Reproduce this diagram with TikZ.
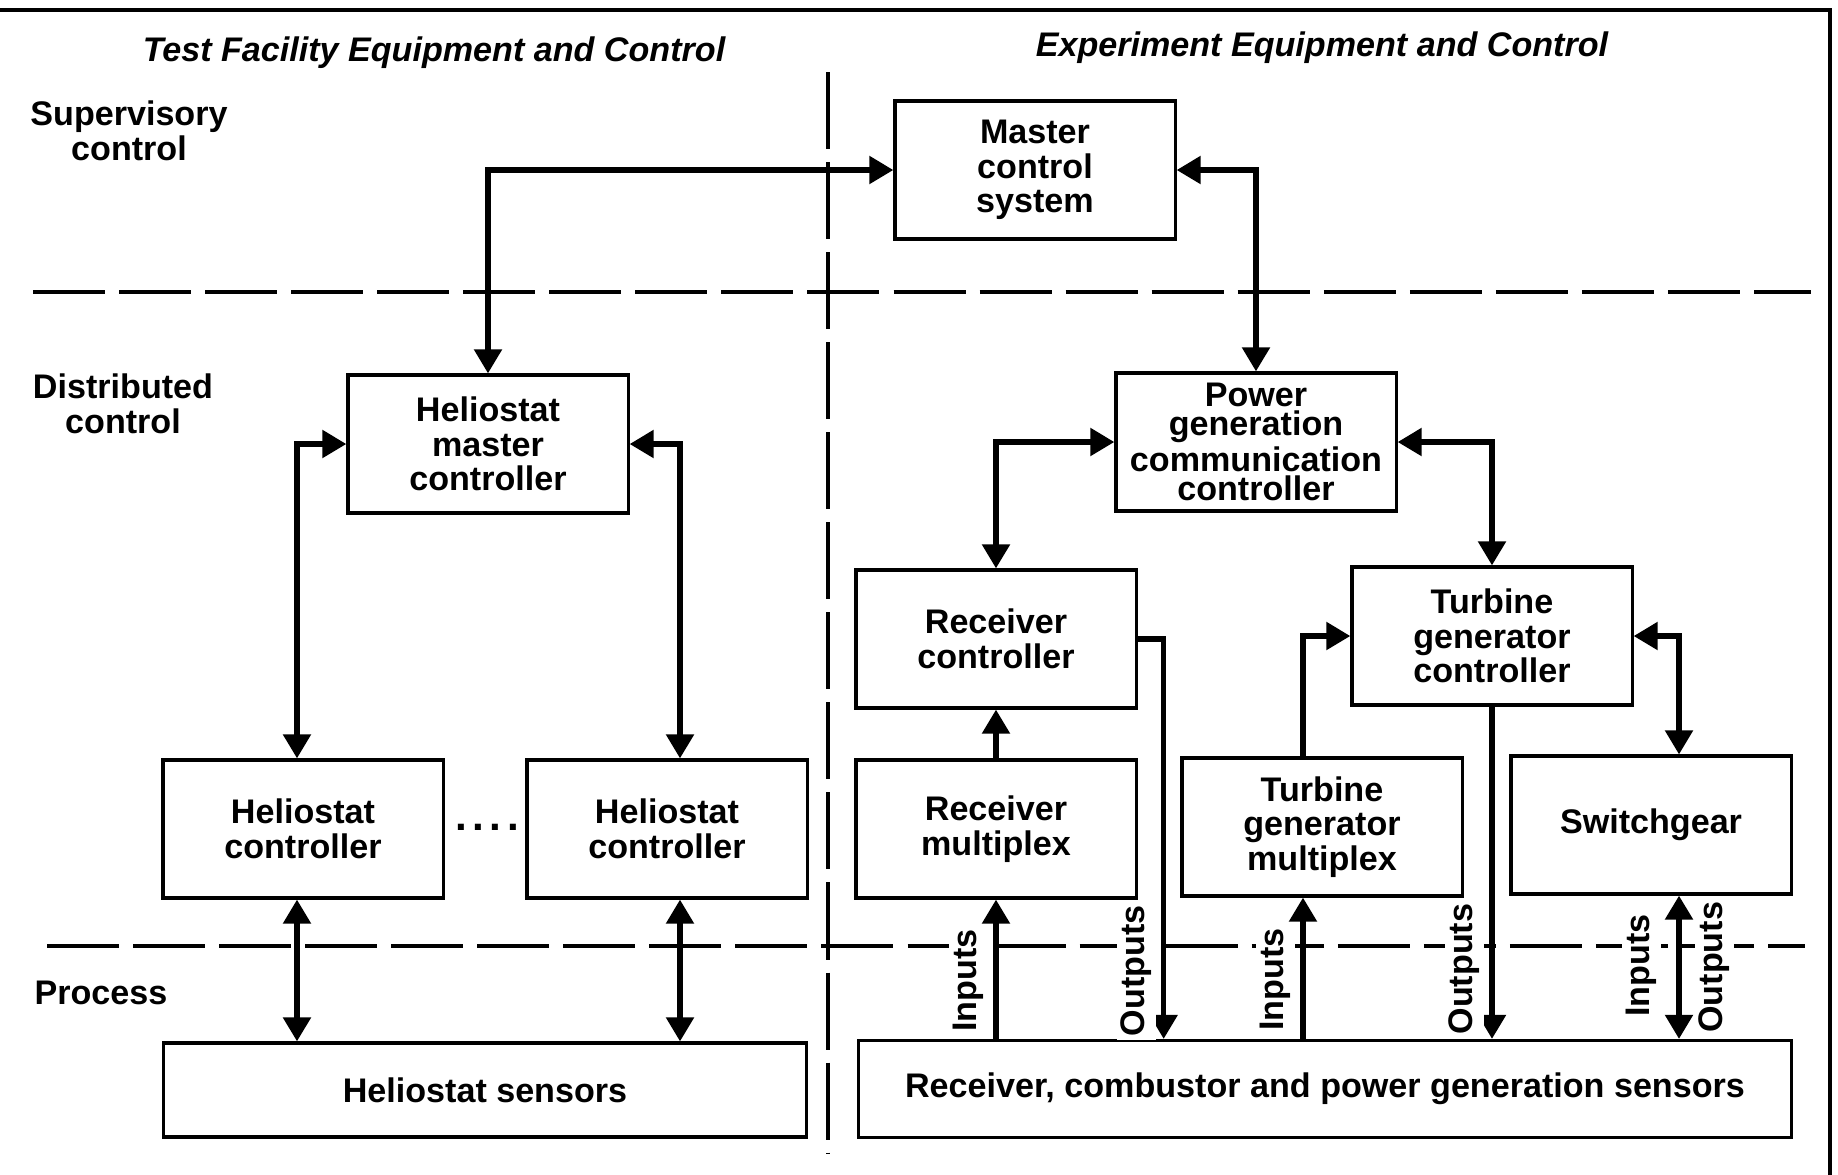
\documentclass[tikz,border=0pt]{standalone}
\usepackage{fontspec}
\setmainfont{Liberation Sans}
\usetikzlibrary{arrows.meta}
\begin{document}
\begin{tikzpicture}[x=0.01cm, y=-0.01cm,
  box/.style={draw=black, line width=0.9pt, minimum width=2.8cm, minimum height=1.38cm,
    align=center, inner sep=0pt, font=\fontsize{9.7}{9.8}\selectfont\bfseries},
  tier/.style={align=center, font=\fontsize{9.7}{10}\selectfont\bfseries},
  head/.style={font=\fontsize{9.7}{10}\selectfont\bfseries\itshape},
  link/.style={line width=1.5pt},
  lbl/.style={rotate=90, anchor=south, fill=white, inner sep=0.4mm, outer sep=0.8mm,
    font=\fontsize{9.7}{10}\selectfont\bfseries},
  divider/.style={line width=0.9pt, dash pattern=on 0.72cm off 0.14cm},
  >={Triangle[length=2.4mm, width=2.7mm]}]
\useasboundingbox (0,0) rectangle (1838,1175);
\draw[line width=1pt] (0,10) -- (1830,10) -- (1830,1175);
\draw[divider] (33,292) -- (1811,292);
\draw[divider] (47,946) -- (1805,946);
\draw[divider, dash pattern=on 0.77cm off 0.13cm] (828,72) -- (828,1153);
\node[head] (testhead) at (434,53) {Test Facility Equipment and Control};
\node[head] (exphead) at (1322,48) {Experiment Equipment and Control};
\node[tier] (supervisory) at (129,131) {Supervisory\\control};
\node[tier] (distributed) at (123,404) {Distributed\\control};
\node[tier] (process) at (101,993) {Process};
\node[box] (master) at (1035,170) {Master\\control\\system};
\node[box] (hmaster) at (488,444) {Heliostat\\master\\controller};
\node[box, font=\fontsize{9.7}{8.4}\selectfont\bfseries] (pgcc) at (1256,442) {Power\\generation\\communication\\controller};
\node[box] (recctrl) at (996,639) {Receiver\\controller};
\node[box] (tgctrl) at (1492,636) {Turbine\\generator\\controller};
\node[box] (hctrlA) at (303,829) {Heliostat\\controller};
\node[box] (hctrlB) at (667,829) {Heliostat\\controller};
\node[font=\fontsize{12}{12}\selectfont\bfseries, inner sep=0pt] (dots) at (487,827) {.\kern1.6pt.\kern1.6pt.\kern1.6pt.};
\node[box] (recmux) at (996,829) {Receiver\\multiplex};
\node[box] (tgmux) at (1322,827) {Turbine\\generator\\multiplex};
\node[box] (switchgear) at (1651,825) {Switchgear};
\node[box, minimum width=6.42cm, minimum height=0.94cm] (hsens) at (485,1090) {Heliostat sensors};
\node[box, minimum width=9.32cm, minimum height=0.97cm] (rsens) at (1325,1089) {Receiver, combustor and power generation sensors};
\draw[link, <->] (hmaster.north) |- (master.west);
\draw[link, <->] (master.east) -| (pgcc.north);
\draw[link, <->] (hmaster.west) -| ([xshift=-0.06cm]hctrlA.north);
\draw[link, <->] (hmaster.east) -| ([xshift=0.13cm]hctrlB.north);
\draw[link, <->] ([xshift=-0.06cm]hctrlA.south) -- ([xshift=-0.06cm]hctrlA.south |- hsens.north);
\draw[link, <->] ([xshift=0.13cm]hctrlB.south) -- ([xshift=0.13cm]hctrlB.south |- hsens.north);
\draw[link, <->] (pgcc.west) -| (recctrl.north);
\draw[link, <->] (pgcc.east) -| (tgctrl.north);
\draw[link, ->] (recmux.north) -- (recctrl.south);
\draw[link, ->] (recmux.south |- rsens.north) -- node[lbl, pos=0.42] {Inputs} (recmux.south);
\draw[link, ->] (recctrl.east) -- ++(26,0) coordinate (rout)
  -- node[lbl, pos=0.83] {Outputs} (rout |- rsens.north);
\draw[link, ->] ([xshift=-0.19cm]tgmux.north) |- (tgctrl.west);
\draw[link, ->] ([xshift=-0.19cm]tgmux.south |- rsens.north) -- node[lbl, pos=0.42] {Inputs} ([xshift=-0.19cm]tgmux.south);
\draw[link, ->] (tgctrl.south) -- node[lbl, pos=0.79] {Outputs} (tgctrl.south |- rsens.north);
\draw[link, <->] (tgctrl.east) -| ([xshift=0.28cm]switchgear.north);
\draw[link, <->] ([xshift=0.28cm]switchgear.south)
  -- node[lbl, pos=0.49, outer sep=1.8mm] {Inputs}
     node[lbl, pos=0.5, anchor=north, outer sep=1.6mm] {Outputs}
  ([xshift=0.28cm]switchgear.south |- rsens.north);
\end{tikzpicture}
\end{document}
